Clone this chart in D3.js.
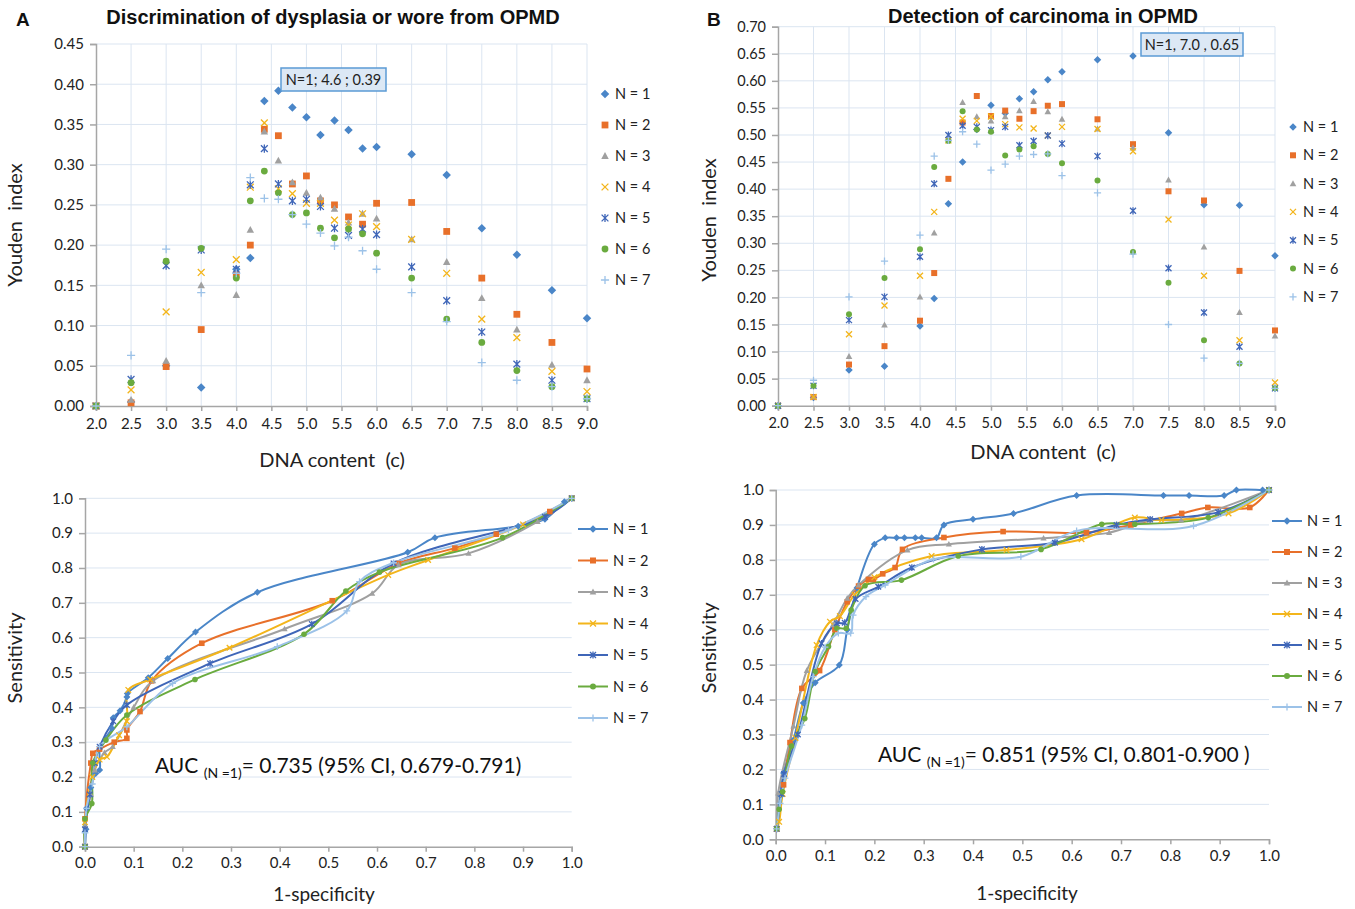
<!DOCTYPE html>
<html><head><meta charset="utf-8">
<script src="https://cdn.jsdelivr.net/npm/d3@7"></script>
<style>body{margin:0;background:#fff}svg{display:block}</style>
</head><body>
<script>
// ---------------- DATA ----------------
const seriesNames = ["N = 1","N = 2","N = 3","N = 4","N = 5","N = 6","N = 7"];
const seriesColors = ["#4a86c8","#e8702a","#a0a0a0","#f3b51b","#3f66b8","#6aab3f","#9cc2e8"];
const seriesMarkers = ["diamond","square","triangle","x","star","circle","plus"];

const dnaContent = [2.0,2.5,3.0,3.5,4.0,4.2,4.4,4.6,4.8,5.0,5.2,5.4,5.6,5.8,6.0,6.5,7.0,7.5,8.0,8.5,9.0];
const dnaTicks = [2.0,2.5,3.0,3.5,4.0,4.5,5.0,5.5,6.0,6.5,7.0,7.5,8.0,8.5,9.0];
const youdenTicksA = [0,0.05,0.10,0.15,0.20,0.25,0.30,0.35,0.40,0.45];
const youdenTicksB = [0,0.05,0.10,0.15,0.20,0.25,0.30,0.35,0.40,0.45,0.50,0.55,0.60,0.65,0.70];
const rocTicks = [0,0.1,0.2,0.3,0.4,0.5,0.6,0.7,0.8,0.9,1.0];

// Panel A (top): Youden index per series
const youdenA = [
  [0,0.005,0.05,0.023,0.170,0.184,0.379,0.392,0.371,0.359,0.337,0.355,0.343,0.320,0.322,0.313,0.287,0.221,0.188,0.144,0.109],
  [0,0.004,0.049,0.095,0.163,0.200,0.344,0.336,0.276,0.286,0.255,0.250,0.235,0.226,0.252,0.253,0.217,0.159,0.114,0.079,0.046],
  [0,0.0075,0.056,0.150,0.138,0.219,0.341,0.305,0.278,0.265,0.259,0.245,0.228,0.239,0.233,0.207,0.179,0.134,0.095,0.051,0.032],
  [0,0.020,0.117,0.166,0.182,0.272,0.352,0.270,0.264,0.252,0.252,0.231,0.225,0.239,0.223,0.207,0.165,0.108,0.085,0.043,0.018],
  [0,0.033,0.1745,0.194,0.170,0.275,0.320,0.276,0.255,0.257,0.248,0.221,0.212,0.220,0.213,0.173,0.131,0.092,0.052,0.032,0.009],
  [0,0.029,0.180,0.196,0.159,0.255,0.292,0.265,0.238,0.240,0.221,0.209,0.220,0.214,0.190,0.159,0.108,0.079,0.044,0.024,0.009],
  [0,0.063,0.195,0.141,0.165,0.284,0.258,0.257,0.238,0.226,0.215,0.199,0.210,0.193,0.170,0.141,0.105,0.054,0.032,0.024,0.009]
];
// Panel B (top): Youden index per series
const youdenB = [
  [0,0.015,0.066,0.073,0.147,0.198,0.373,0.450,0.510,0.555,0.540,0.567,0.580,0.602,0.617,0.639,0.646,0.504,0.371,0.370,0.277],
  [0,0.016,0.076,0.110,0.157,0.245,0.419,0.523,0.572,0.535,0.545,0.530,0.544,0.554,0.557,0.529,0.483,0.396,0.379,0.249,0.139],
  [0,0.016,0.091,0.149,0.201,0.319,0.495,0.560,0.534,0.526,0.534,0.545,0.562,0.543,0.529,0.511,0.476,0.417,0.293,0.172,0.129],
  [0,0.016,0.132,0.185,0.240,0.358,0.490,0.530,0.526,0.534,0.520,0.514,0.512,0.499,0.515,0.511,0.470,0.344,0.240,0.121,0.043],
  [0,0.037,0.158,0.201,0.275,0.410,0.500,0.517,0.515,0.509,0.515,0.481,0.489,0.499,0.484,0.461,0.360,0.254,0.172,0.109,0.032],
  [0,0.037,0.169,0.236,0.289,0.441,0.489,0.544,0.510,0.506,0.462,0.473,0.479,0.465,0.448,0.416,0.284,0.227,0.121,0.078,0.032],
  [0,0.047,0.201,0.267,0.315,0.461,0.490,0.506,0.483,0.435,0.446,0.461,0.464,0.465,0.425,0.393,0.280,0.150,0.088,0.078,0.032]
];
const calloutA = {n:1, x:4.6, y:0.39, label:"N=1; 4.6 ; 0.39"};
const calloutB = {n:1, x:7.0, y:0.65, label:"N=1, 7.0 , 0.65"};

// Panel A (bottom): ROC points [1-specificity, sensitivity]
const rocA = [
  [[0,0],[0.002,0.05],[0.003,0.11],[0.012,0.17],[0.022,0.21],[0.03,0.22],[0.031,0.287],[0.055,0.34],[0.058,0.37],[0.072,0.39],[0.086,0.43],[0.087,0.44],[0.13,0.485],[0.17,0.54],[0.227,0.616],[0.354,0.73],[0.663,0.845],[0.719,0.887],[0.89,0.92],[0.945,0.94],[0.985,0.99],[1,1]],
  [[0,0],[0,0.08],[0.012,0.24],[0.016,0.268],[0.03,0.28],[0.06,0.30],[0.086,0.311],[0.086,0.335],[0.113,0.388],[0.137,0.476],[0.24,0.584],[0.508,0.706],[0.644,0.813],[0.76,0.857],[0.845,0.897],[0.955,0.962],[1,1]],
  [[0,0],[0,0.06],[0.012,0.15],[0.02,0.22],[0.04,0.27],[0.057,0.287],[0.10,0.40],[0.14,0.476],[0.41,0.625],[0.59,0.727],[0.644,0.809],[0.788,0.842],[0.93,0.933],[1,1]],
  [[0,0],[0,0.07],[0.015,0.20],[0.03,0.25],[0.045,0.258],[0.07,0.32],[0.086,0.36],[0.089,0.45],[0.134,0.48],[0.297,0.571],[0.623,0.78],[0.705,0.823],[0.90,0.925],[1,1]],
  [[0,0],[0,0.05],[0.01,0.15],[0.02,0.24],[0.03,0.287],[0.058,0.36],[0.086,0.407],[0.257,0.526],[0.466,0.639],[0.634,0.813],[0.945,0.947],[1,1]],
  [[0,0],[0,0.08],[0.014,0.124],[0.016,0.24],[0.043,0.306],[0.086,0.378],[0.226,0.48],[0.45,0.61],[0.536,0.734],[0.605,0.788],[0.858,0.887],[1,1]],
  [[0,0],[0,0.04],[0.003,0.11],[0.015,0.18],[0.03,0.287],[0.086,0.344],[0.18,0.469],[0.395,0.574],[0.538,0.677],[0.564,0.761],[0.634,0.815],[0.87,0.909],[1,1]]
];
// Panel B (bottom): ROC points [1-specificity, sensitivity]
const rocB = [
  [[0.002,0.031],[0.009,0.127],[0.016,0.19],[0.036,0.284],[0.056,0.39],[0.08,0.448],[0.129,0.499],[0.145,0.6],[0.165,0.72],[0.2,0.845],[0.222,0.863],[0.245,0.863],[0.261,0.863],[0.283,0.863],[0.296,0.863],[0.326,0.863],[0.341,0.9],[0.4,0.916],[0.482,0.933],[0.61,0.984],[0.786,0.984],[0.838,0.984],[0.909,0.984],[0.934,1.0],[0.987,1.0],[1,1]],
  [[0.002,0.03],[0.016,0.156],[0.029,0.277],[0.053,0.432],[0.089,0.483],[0.12,0.60],[0.145,0.68],[0.168,0.725],[0.188,0.744],[0.198,0.744],[0.217,0.76],[0.242,0.778],[0.257,0.83],[0.341,0.864],[0.461,0.881],[0.63,0.878],[0.72,0.90],[0.823,0.933],[0.876,0.95],[0.961,0.95],[1,1]],
  [[0.002,0.03],[0.005,0.132],[0.036,0.324],[0.063,0.483],[0.116,0.614],[0.145,0.69],[0.168,0.728],[0.267,0.828],[0.351,0.845],[0.543,0.862],[0.676,0.878],[0.759,0.914],[0.822,0.914],[1,1]],
  [[0.002,0.03],[0.007,0.05],[0.014,0.13],[0.04,0.29],[0.083,0.556],[0.11,0.623],[0.13,0.639],[0.16,0.70],[0.20,0.75],[0.316,0.811],[0.468,0.828],[0.62,0.859],[0.728,0.921],[0.782,0.914],[0.918,0.933],[1,1]],
  [[0.002,0.03],[0.012,0.13],[0.017,0.187],[0.045,0.30],[0.093,0.561],[0.124,0.618],[0.14,0.62],[0.162,0.688],[0.208,0.723],[0.276,0.778],[0.418,0.83],[0.566,0.849],[0.691,0.90],[0.759,0.916],[0.897,0.936],[1,1]],
  [[0.002,0.03],[0.007,0.086],[0.014,0.136],[0.032,0.267],[0.059,0.346],[0.08,0.48],[0.107,0.552],[0.124,0.604],[0.143,0.604],[0.153,0.656],[0.181,0.726],[0.255,0.742],[0.37,0.811],[0.538,0.83],[0.661,0.902],[0.728,0.902],[0.877,0.921],[1,1]],
  [[0.002,0.03],[0.009,0.103],[0.019,0.175],[0.053,0.327],[0.076,0.466],[0.10,0.55],[0.127,0.59],[0.152,0.59],[0.157,0.642],[0.183,0.695],[0.222,0.728],[0.32,0.802],[0.497,0.809],[0.61,0.883],[0.847,0.897],[1,1]]
];
const aucA = {value:"0.735", ci:"0.679-0.791"};
const aucB = {value:"0.851", ci:"0.801-0.900 "};

// ---------------- DRAWING ----------------
const FONT = "Lato, 'Liberation Sans', sans-serif";
const GRID = "#dbe5f1", AXIS = "#a6a6a6", TXT = "#222";
const svg = d3.select("body").append("svg").attr("width",1355).attr("height",909)
  .style("font-family",FONT);
svg.append("rect").attr("width",1355).attr("height",909).attr("fill","#fff");

function marker(g, type, x, y, s, color){
  const m = g.append("g").attr("transform",`translate(${x},${y})`);
  if(type==="diamond") m.append("path").attr("d",`M0,${-s*1.25}L${s*1.25},0L0,${s*1.25}L${-s*1.25},0Z`).attr("fill",color);
  else if(type==="square") m.append("rect").attr("x",-s).attr("y",-s).attr("width",2*s).attr("height",2*s).attr("fill",color);
  else if(type==="triangle") m.append("path").attr("d",`M0,${-s*1.15}L${s*1.1},${s*0.85}L${-s*1.1},${s*0.85}Z`).attr("fill",color);
  else if(type==="circle") m.append("circle").attr("r",s).attr("fill",color);
  else {
    let d="";
    if(type==="x"||type==="star") d+=`M${-s},${-s}L${s},${s}M${-s},${s}L${s},${-s}`;
    if(type==="star") d+=`M0,${-s*1.2}L0,${s*1.2}`;
    if(type==="plus") d+=`M${-s*1.2},0L${s*1.2},0M0,${-s*1.2}L0,${s*1.2}`;
    m.append("path").attr("d",d).attr("stroke",color).attr("stroke-width",1.3).attr("fill","none");
  }
}

function axesFrame(g, x, y, xTicks, yTicks, xFmt, yFmt, vgrid, opts){
  yTicks.forEach(t=>{ if(t===0) return;
    g.append("line").attr("x1",x.range()[0]).attr("x2",x.range()[1]).attr("y1",y(t)).attr("y2",y(t)).attr("stroke",GRID).attr("stroke-width",1);
  });
  if(vgrid) xTicks.forEach(t=>{ if(t===xTicks[0]) return;
    g.append("line").attr("y1",y.range()[0]).attr("y2",y.range()[1]).attr("x1",x(t)).attr("x2",x(t)).attr("stroke",GRID).attr("stroke-width",1);
  });
  const xa = g.append("g").attr("transform",`translate(0,${y.range()[0]})`)
    .call(d3.axisBottom(x).tickValues(xTicks).tickFormat(xFmt).tickSize(5).tickPadding(opts.xpad));
  const ya = g.append("g").attr("transform",`translate(${x.range()[0]},0)`)
    .call(d3.axisLeft(y).tickValues(yTicks).tickFormat(yFmt).tickSize(6).tickPadding(opts.ypad));
  [xa,ya].forEach(a=>{
    a.selectAll("path,line").attr("stroke",AXIS).attr("stroke-width",1.5);
    a.selectAll("text").attr("fill",TXT).style("font-family",FONT).style("font-size",opts.fs+"px");
  });
}

function topPanel(cfg){
  const g = svg.append("g");
  const x = d3.scaleLinear().domain([2,9]).range(cfg.xr);
  const y = d3.scaleLinear().domain([0,cfg.ymax]).range(cfg.yr);
  axesFrame(g,x,y,dnaTicks,cfg.yTicks,d3.format(".1f"),d3.format(".2f"),true,{xpad:7,ypad:6,fs:cfg.fs});
  cfg.data.forEach((vals,i)=>{
    vals.forEach((v,j)=>{ if(v!=null) marker(g,seriesMarkers[i],x(dnaContent[j]),y(v),cfg.ms,seriesColors[i]); });
  });
  const c = cfg.callout;
  const cb = g.append("g");
  cb.append("rect").attr("x",cfg.box[0]).attr("y",cfg.box[1]).attr("width",cfg.box[2]).attr("height",cfg.box[3])
    .attr("fill","#dce8f5").attr("stroke","#5b9bd5").attr("stroke-width",1.5);
  cb.append("text").attr("x",cfg.box[0]+cfg.box[2]/2).attr("y",cfg.box[1]+cfg.box[3]/2+5)
    .attr("text-anchor","middle").style("font-size","14.5px").attr("fill",TXT).text(c.label);
  seriesNames.forEach((n,i)=>{
    const ly = cfg.leg[1]+i*cfg.leg[2];
    marker(g,seriesMarkers[i],cfg.leg[0],ly,cfg.ms,seriesColors[i]);
    g.append("text").attr("x",cfg.leg[0]+10).attr("y",ly+5).style("font-size","14.5px").attr("fill",TXT).text(n);
  });
  g.append("text").attr("x",cfg.title[0]).attr("y",cfg.title[1]).attr("text-anchor","middle")
    .style("font-family","'Liberation Sans', Arial, sans-serif").style("font-weight","bold").style("font-size","20px").attr("fill","#111").text(cfg.titleText);
  g.append("text").attr("x",cfg.letter[0]).attr("y",cfg.letter[1])
    .style("font-family","'Liberation Sans', Arial, sans-serif").style("font-weight","bold").style("font-size","19px").attr("fill","#111").text(cfg.letterText);
  g.append("text").attr("x",cfg.xlab[0]).attr("y",cfg.xlab[1]).attr("text-anchor","middle")
    .style("font-size","20px").attr("fill",TXT).attr("xml:space","preserve").text("DNA content  (c)");
  g.append("text").attr("transform",`translate(${cfg.ylab[0]},${cfg.ylab[1]}) rotate(-90)`).attr("text-anchor","middle")
    .style("font-size","20px").attr("fill",TXT).attr("xml:space","preserve").text("Youden  index");
}

function rocPanel(cfg){
  const g = svg.append("g");
  const x = d3.scaleLinear().domain([0,1]).range(cfg.xr);
  const y = d3.scaleLinear().domain([0,1]).range(cfg.yr);
  axesFrame(g,x,y,rocTicks,rocTicks,d3.format(".1f"),d3.format(".1f"),false,{xpad:6,ypad:6,fs:15});
  const line = d3.line().x(d=>x(d[0])).y(d=>y(d[1])).curve(d3.curveCatmullRom.alpha(0.5));
  cfg.data.forEach((pts,i)=>{
    g.append("path").attr("d",line(pts)).attr("fill","none").attr("stroke",seriesColors[i]).attr("stroke-width",2);
  });
  cfg.data.forEach((pts,i)=>{
    pts.forEach(p=>marker(g,seriesMarkers[i],x(p[0]),y(p[1]),2.8,seriesColors[i]));
  });
  seriesNames.forEach((n,i)=>{
    const ly = cfg.leg[1]+i*cfg.leg[2];
    g.append("line").attr("x1",cfg.leg[0]).attr("x2",cfg.leg[0]+30).attr("y1",ly).attr("y2",ly).attr("stroke",seriesColors[i]).attr("stroke-width",2);
    marker(g,seriesMarkers[i],cfg.leg[0]+15,ly,3,seriesColors[i]);
    g.append("text").attr("x",cfg.leg[0]+35).attr("y",ly+5).style("font-size","14.5px").attr("fill",TXT).text(n);
  });
  const t = g.append("text").attr("x",cfg.auc[0]).attr("y",cfg.auc[1]).style("font-size","21px").attr("fill","#111").attr("xml:space","preserve");
  t.append("tspan").text("AUC ");
  t.append("tspan").attr("dy",5).style("font-size","14px").text("(N =1)");
  t.append("tspan").attr("dy",-5).text(`= ${cfg.a.value} (95% CI, ${cfg.a.ci})`);
  g.append("text").attr("x",cfg.xlab[0]).attr("y",cfg.xlab[1]).attr("text-anchor","middle")
    .style("font-size","19px").attr("fill",TXT).text("1-specificity");
  g.append("text").attr("transform",`translate(${cfg.ylab[0]},${cfg.ylab[1]}) rotate(-90)`).attr("text-anchor","middle")
    .style("font-size","20px").attr("fill",TXT).text("Sensitivity");
}

topPanel({xr:[96,587], yr:[406,44], ymax:0.45, yTicks:youdenTicksA, data:youdenA, ms:3.4, fs:15,
  callout:calloutA, box:[281,68,105,23], leg:[605,94,31.0], title:[333,24], titleText:"Discrimination of dysplasia or wore from OPMD",
  letter:[16,26], letterText:"A", xlab:[332,467], ylab:[22,225]});
topPanel({xr:[778,1275], yr:[405.7,26.7], ymax:0.70, yTicks:youdenTicksB, data:youdenB, ms:3.0, fs:14.5,
  callout:calloutB, box:[1141,33,102,23], leg:[1293,127,28.3], title:[1043,23], titleText:"Detection of carcinoma in OPMD",
  letter:[707,26], letterText:"B", xlab:[1043,459], ylab:[716,220]});
rocPanel({xr:[85,571.7], yr:[846.7,498.3], data:rocA, leg:[578,529,31.5], auc:[155,773], a:aucA, xlab:[324,901], ylab:[22,658]});
rocPanel({xr:[775.7,1269], yr:[839.3,490], data:rocB, leg:[1272,521,31], auc:[878,762], a:aucB, xlab:[1027,900], ylab:[716,648]});
</script>
</body></html>
